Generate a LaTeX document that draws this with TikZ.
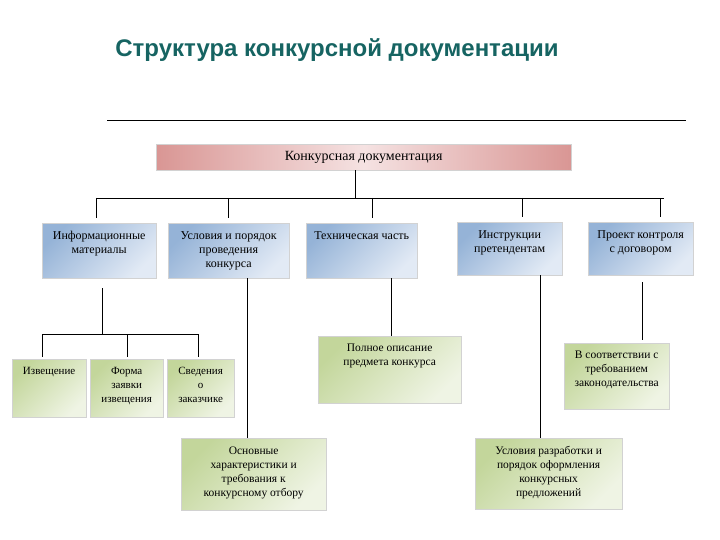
\documentclass[tikz,border=0pt]{standalone}
\usepackage{fontspec}
\setmainfont{Liberation Serif}
\newfontfamily\titlefont{Liberation Sans}
\usetikzlibrary{shadows}
\definecolor{titleteal}{RGB}{22,100,98}
\definecolor{blueD}{RGB}{149,179,215}
\definecolor{blueL}{RGB}{226,234,245}
\definecolor{greenD}{RGB}{195,214,155}
\definecolor{greenL}{RGB}{239,244,228}
\definecolor{redD}{RGB}{217,150,148}
\definecolor{redL}{RGB}{245,226,226}
\tikzset{
  boxbase/.style={rectangle, anchor=north west, draw=gray!35, line width=0.3pt,
    drop shadow={shadow xshift=1.2pt, shadow yshift=-1.2pt, opacity=0.35}},
  bluebox/.style={boxbase, top color=blueD, bottom color=blueL, shading angle=45},
  greenbox/.style={boxbase, top color=greenD, bottom color=greenL, shading angle=45},
  boxtext/.style={anchor=north, align=center, inner xsep=1pt, inner ysep=8pt,
    font=\fontsize{#1}{14}\selectfont},
  boxtext/.default=11.5,
}
\begin{document}
\begin{tikzpicture}[x=1pt,y=-1pt,line width=0.8pt]
\useasboundingbox (0,0) rectangle (720,540);
% title
\node[anchor=base west, inner sep=0, text=titleteal,
  font=\titlefont\bfseries\fontsize{24}{28}\selectfont] (title) at (115,57) {Структура конкурсной документации};
\draw (107,120) -- (686,120);
% top
\node[boxbase, left color=redD, right color=redD, middle color=redL,
  minimum width=415pt, minimum height=26pt, font=\fontsize{14}{16}\selectfont] (doc) at (156,144) {Конкурсная документация};
% level 1
\node[bluebox, minimum width=114pt, minimum height=55pt,
  label={[boxtext=12]north:Информационные\\материалы}] (info) at (42,223) {};
\node[bluebox, minimum width=121pt, minimum height=55pt,
  label={[boxtext=12]north:Условия и порядок\\проведения\\конкурса}] (cond) at (168,223) {};
\node[bluebox, minimum width=111pt, minimum height=55pt,
  label={[boxtext=12]north:Техническая часть}] (tech) at (306,223) {};
\node[bluebox, minimum width=105pt, minimum height=53pt,
  label={[boxtext=12]north:Инструкции\\претендентам}] (instr) at (457,222) {};
\node[bluebox, minimum width=105pt, minimum height=53pt,
  label={[boxtext=12]north:Проект контроля\\с договором}] (proj) at (588,222) {};
% level 2
\node[greenbox, minimum width=74pt, minimum height=58pt,
  label={[boxtext=11]north:Извещение}] (notice) at (12,359) {};
\node[greenbox, minimum width=73pt, minimum height=58pt,
  label={[boxtext=11]north:Форма\\заявки\\извещения}] (form) at (90,359) {};
\node[greenbox, minimum width=67pt, minimum height=58pt,
  label={[boxtext=11]north:Сведения\\о\\заказчике}] (cust) at (167,359) {};
\node[greenbox, minimum width=143pt, minimum height=67pt,
  label={[boxtext]north:Полное описание\\предмета конкурса}] (descr) at (318,336) {};
\node[greenbox, minimum width=105pt, minimum height=66pt,
  label={[boxtext]north:В соответствии с\\требованием\\законодательства}] (law) at (564,343) {};
\node[greenbox, minimum width=145pt, minimum height=72pt,
  label={[boxtext]north:Основные\\характеристики и\\требования к\\конкурсному отбору}] (basic) at (181,438) {};
\node[greenbox, minimum width=147pt, minimum height=71pt,
  label={[boxtext]north:Условия разработки и\\порядок оформления\\конкурсных\\предложений}] (rules) at (475,438) {};
% connectors
\coordinate (busL) at (96,198);
\coordinate (busR) at (664,198);
\draw ([xshift=-8.5pt]doc.south) -- ([xshift=-8.5pt]doc.south |- busL);
\draw (busL) -- (busR);
\foreach \x/\n in {96/info,228/cond,372/tech,522/instr,660/proj}
  \draw (\x,198) -- ([yshift=5pt]\n.north -| \x,0);
\coordinate (infobus) at (102,334);
\draw ([yshift=-10pt]info.south -| infobus) -- (infobus);
\draw (42,334) -- (198,334);
\foreach \x/\n in {42/notice,127/form,198/cust}
  \draw (\x,334) -- ([yshift=2pt]\n.north -| \x,0);
\draw (cond.south -| 247,0) -- (basic.north -| 247,0);
\draw (tech.south -| 391,0) -- (descr.north -| 391,0);
\draw (instr.south -| 540,0) -- (rules.north -| 540,0);
\draw ([yshift=-7pt]proj.south -| 642,0) -- ([yshift=3pt]law.north -| 642,0);
\end{tikzpicture}
\end{document}
